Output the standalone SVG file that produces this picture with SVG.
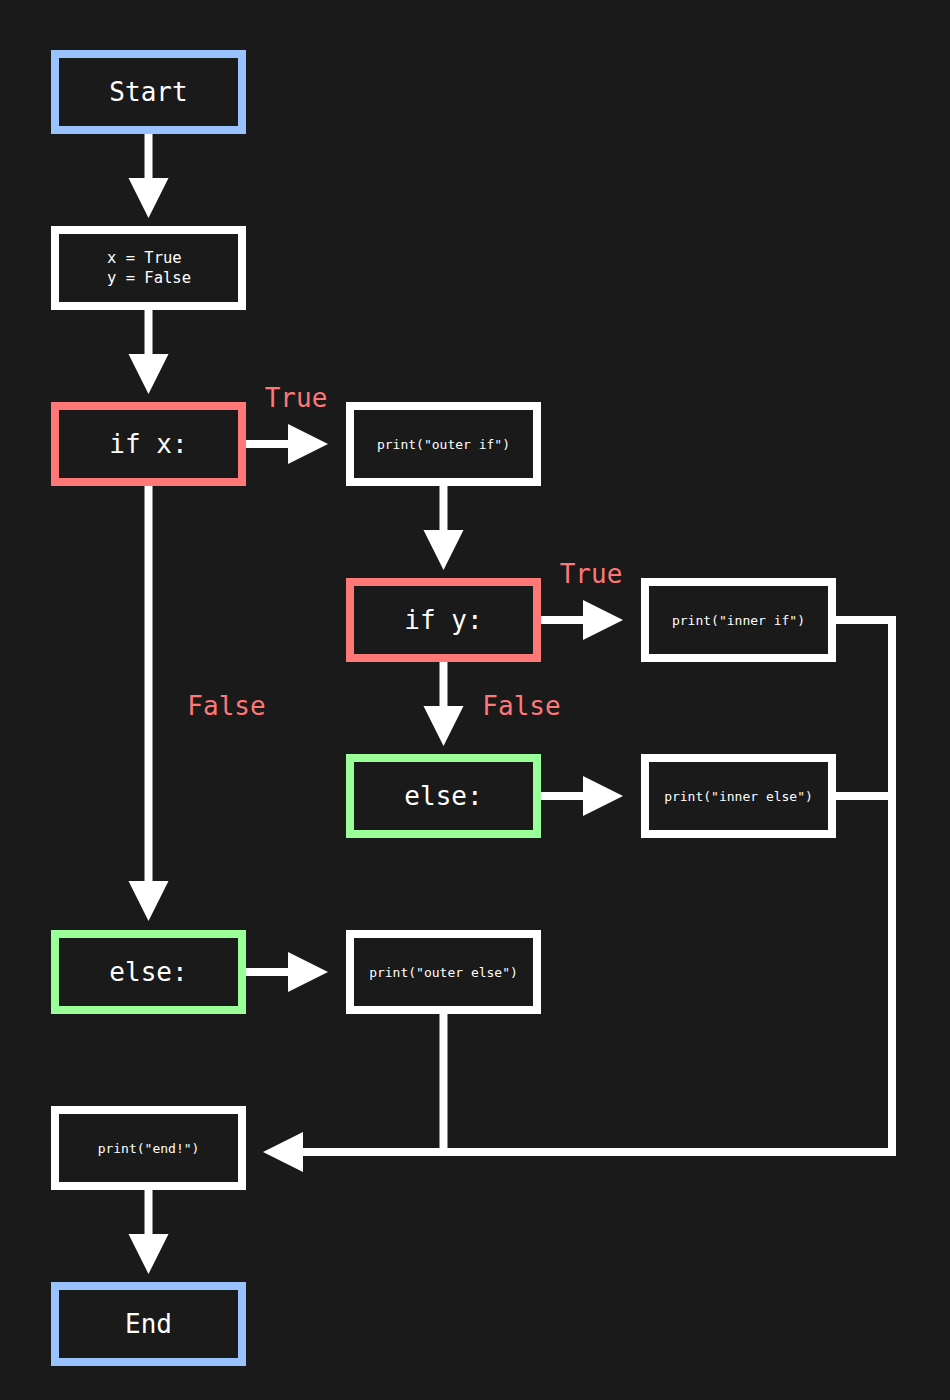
<svg xmlns="http://www.w3.org/2000/svg" width="950" height="1400" viewBox="0 0 950 1400">
<style>
.box{fill:#1a1a1a;stroke-width:8}
.term{stroke:#99c2ff}
.cond{stroke:#ff7777}
.els{stroke:#99ff99}
.stmt{stroke:#ffffff}
.big{font-family:"DejaVu Sans Mono","Liberation Mono",monospace;font-size:26px;fill:#ffffff;text-anchor:middle}
.mid{font-family:"DejaVu Sans Mono","Liberation Mono",monospace;font-size:15.5px;fill:#ffffff}
.small{font-family:"DejaVu Sans Mono","Liberation Mono",monospace;font-size:13px;fill:#ffffff;text-anchor:middle}
.lbl{font-family:"DejaVu Sans Mono","Liberation Mono",monospace;font-size:26px;fill:#ff7777;text-anchor:middle}
.ln{fill:none;stroke:#ffffff;stroke-width:8;stroke-linejoin:miter;stroke-linecap:butt}
.ah{fill:#ffffff}
</style>
<rect width="950" height="1400" fill="#1a1a1a"/>
<g id="connectors">
<line class="ln" x1="148.5" y1="134" x2="148.5" y2="179"/>
<polygon class="ah" points="128.5,178 168.5,178 148.5,218"/>
<line class="ln" x1="148.5" y1="310" x2="148.5" y2="355"/>
<polygon class="ah" points="128.5,354 168.5,354 148.5,394"/>
<line class="ln" x1="246" y1="444" x2="289" y2="444"/>
<polygon class="ah" points="288,424 288,464 328,444"/>
<line class="ln" x1="443.5" y1="486" x2="443.5" y2="531"/>
<polygon class="ah" points="423.5,530 463.5,530 443.5,570"/>
<line class="ln" x1="541" y1="620" x2="584" y2="620"/>
<polygon class="ah" points="583,600 583,640 623,620"/>
<line class="ln" x1="443.5" y1="662" x2="443.5" y2="707"/>
<polygon class="ah" points="423.5,706 463.5,706 443.5,746"/>
<line class="ln" x1="541" y1="796" x2="584" y2="796"/>
<polygon class="ah" points="583,776 583,816 623,796"/>
<line class="ln" x1="148.5" y1="486" x2="148.5" y2="882"/>
<polygon class="ah" points="128.5,881 168.5,881 148.5,921"/>
<line class="ln" x1="246" y1="972" x2="289" y2="972"/>
<polygon class="ah" points="288,952 288,992 328,972"/>
<line class="ln" x1="148.5" y1="1190" x2="148.5" y2="1235"/>
<polygon class="ah" points="128.5,1234 168.5,1234 148.5,1274"/>
<polyline class="ln" points="836,620 892,620 892,1152 302,1152"/>
<line class="ln" x1="836" y1="796" x2="892" y2="796"/>
<line class="ln" x1="443.5" y1="1014" x2="443.5" y2="1152"/>
<polygon class="ah" points="303,1132 303,1172 263,1152"/>
<text class="lbl" x="296" y="407">True</text>
<text class="lbl" x="226.5" y="715">False</text>
<text class="lbl" x="591" y="583">True</text>
<text class="lbl" x="521.5" y="715">False</text>
</g>
<g id="start"><rect class="box term" x="55" y="54" width="187" height="76"/><text class="big" x="148.5" y="101">Start</text></g>
<g id="assign"><rect class="box stmt" x="55" y="230" width="187" height="76"/><text class="mid" x="107" y="263">x = True</text><text class="mid" x="107" y="283">y = False</text></g>
<g id="if-x"><rect class="box cond" x="55" y="406" width="187" height="76"/><text class="big" x="148.5" y="453">if x:</text></g>
<g id="print-outer-if"><rect class="box stmt" x="350" y="406" width="187" height="76"/><text class="small" x="443.5" y="448.5">print("outer if")</text></g>
<g id="if-y"><rect class="box cond" x="350" y="582" width="187" height="76"/><text class="big" x="443.5" y="629">if y:</text></g>
<g id="print-inner-if"><rect class="box stmt" x="645" y="582" width="187" height="76"/><text class="small" x="738.5" y="624.5">print("inner if")</text></g>
<g id="else-inner"><rect class="box els" x="350" y="758" width="187" height="76"/><text class="big" x="443.5" y="805">else:</text></g>
<g id="print-inner-else"><rect class="box stmt" x="645" y="758" width="187" height="76"/><text class="small" x="738.5" y="800.5">print("inner else")</text></g>
<g id="else-outer"><rect class="box els" x="55" y="934" width="187" height="76"/><text class="big" x="148.5" y="981">else:</text></g>
<g id="print-outer-else"><rect class="box stmt" x="350" y="934" width="187" height="76"/><text class="small" x="443.5" y="976.5">print("outer else")</text></g>
<g id="print-end"><rect class="box stmt" x="55" y="1110" width="187" height="76"/><text class="small" x="148.5" y="1152.5">print("end!")</text></g>
<g id="end"><rect class="box term" x="55" y="1286" width="187" height="76"/><text class="big" x="148.5" y="1333">End</text></g>
</svg>
